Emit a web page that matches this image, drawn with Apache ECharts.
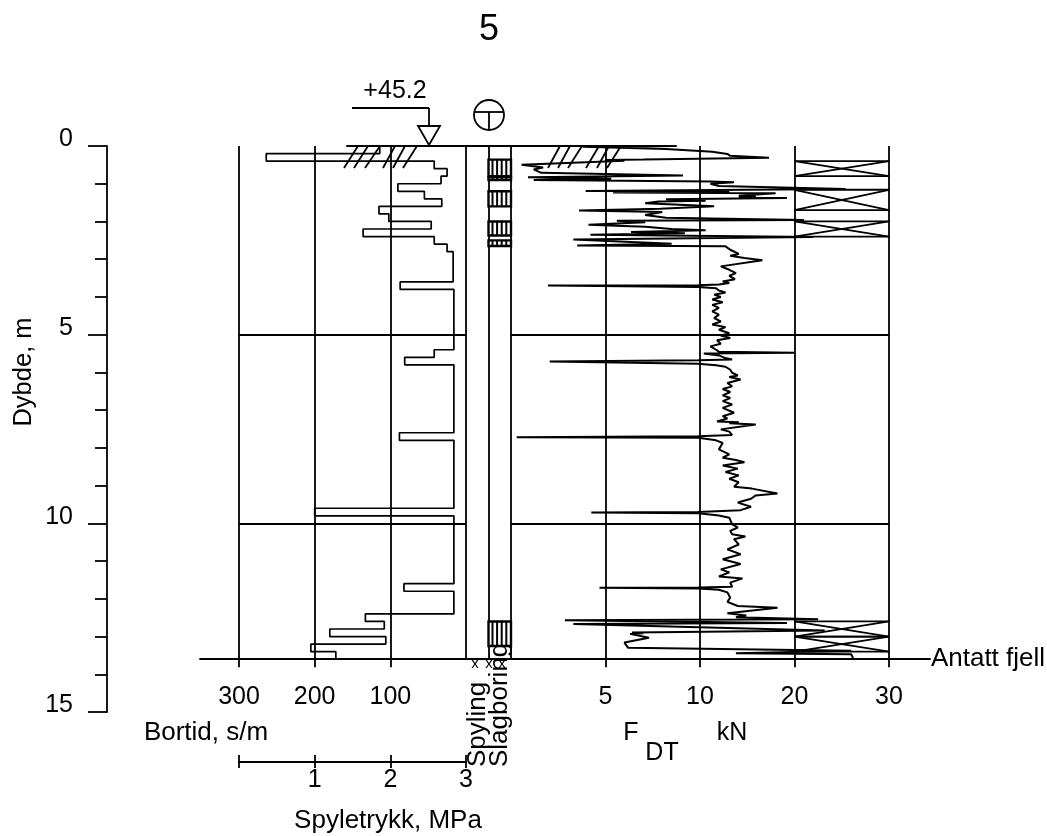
<!DOCTYPE html>
<html><head><meta charset="utf-8">
<style>html,body{margin:0;padding:0;background:#fff}#c{width:1047px;height:836px}</style>
<script src="https://cdn.jsdelivr.net/npm/echarts@6/dist/echarts.min.js"></script>
</head><body><div id="c"></div>
<script>
const depthTicks=[0,5,10,15];
const bedrockDepth=13.6;
const bortidTicks=[100,200,300];
const forceTicks=[5,10,20,30];
const pressureTicks=[1,2,3];
// Bortid, s/m: step values between successive depth edges
const bortidEdges=[0,0.2,0.4,0.6,0.8,1.0,1.2,1.4,1.6,1.8,2.0,2.2,2.4,2.6,2.8,3.6,3.8,5.4,5.6,5.8,7.6,7.8,9.6,9.8,11.6,11.8,12.4,12.6,12.8,13.0,13.2,13.4,13.6];
const bortidValues=[114,264,42,25,33,90,55,32,115,102,46,136,42,25,17,87,16,42,81,16,88,16,200,16,82,16,133,108,180,106,205,172];
// F_DT, kN against depth, m
const forceDepth=[0,0.02,0.08,0.15,0.21,0.26,0.31,0.36,0.37,0.39,0.50,0.57,0.62,0.71,0.78,0.83,0.87,0.90,0.94,0.96,1.0,1.06,1.14,1.19,1.20,1.23,1.25,1.32,1.34,1.37,1.38,1.41,1.45,1.47,1.52,1.60,1.66,1.71,1.75,1.83,1.90,1.96,1.98,2.02,2.09,2.14,2.20,2.23,2.28,2.31,2.35,2.41,2.48,2.59,2.64,2.66,
2.75,2.86,2.91,2.97,3.03,3.19,3.28,3.37,3.44,3.53,3.59,3.63,3.67,3.69,3.70,3.74,3.77,3.83,3.88,3.94,4.00,4.07,4.14,4.21,4.29,4.38,4.47,4.56,4.65,4.73,4.80,4.87,4.96,5.02,5.09,5.15,5.24,5.31,5.40,5.45,5.48,5.50,5.55,5.62,5.66,5.68,5.71,5.77,5.81,5.85,5.93,6.01,6.08,6.12,6.19,6.28,6.37,6.44,6.52,6.61,6.68,6.76,6.85,6.94,7.07,7.16,7.22,7.30,7.32,7.35,7.38,7.51,7.57,7.66,7.69,7.72,7.73,7.80,7.87,8.04,8.17,8.26,8.32,8.38,
8.47,8.55,8.64,8.73,8.82,8.91,9.03,9.08,9.21,9.26,9.35,9.45,9.56,9.65,9.69,9.70,9.71,9.73,9.79,9.85,10.03,10.11,10.20,10.29,10.35,10.42,10.56,10.69,10.82,10.95,11.08,11.22,11.30,11.41,11.46,11.57,11.68,11.70,11.71,11.73,11.76,11.83,11.97,12.08,12.19,12.24,12.38,12.44,12.49,12.54,12.57,12.64,12.67,12.84,12.89,12.91,12.93,13.03,13.16,13.30,13.38,13.44,13.47,13.57];
const forceValues=[8.7,3.8,8.2,11.3,12.9,13.2,17.3,7,5,6,0.56,1.7,1.2,1.6,9.1,0.9,5.3,1.2,11.1,13.6,11.1,12,25.4,3.95,13.1,5.4,18,14.1,15.9,14.1,19.2,8.2,10.6,7.8,7.1,11.5,7.9,3.6,8,7.1,8.2,21,5.6,7.1,4.1,7.1,8.5,10.6,6.35,9.2,4.2,22,3.3,8.5,3.5,12.7,
13.2,14.1,13.2,14.7,16.6,12.2,13.1,13.8,13.1,13.7,12.4,13.1,12,9.9,1.95,9.9,11.7,12,12.7,11.5,12.2,11.3,12.4,11.3,12,11.3,12,11.5,12.2,11.3,12.7,12,13.1,12.2,13.2,11.8,12.2,11.1,11.7,12,20,10.4,12,12.7,13.4,9.9,2.05,9.9,11.7,12.7,13.2,13.4,14,13.1,14.3,12.9,13.4,12.4,13.2,12.4,13.2,12.4,13.4,12.4,13.6,12.4,12.9,11.8,14.1,13.1,15.9,12.2,13.1,13.4,9.9,0.3,9.9,11.7,12.4,12,13.1,12.4,13.8,14.7,
12.4,14,12.7,14.1,13.1,14.1,13.6,15.5,18.2,15.9,15.4,14,15.4,14.3,14.3,9.9,4.25,9.9,12,13.1,13.4,14,13.2,13.4,14.8,13.6,14.1,12.9,14.3,12.4,14.3,12.2,13.1,12,14.5,13.2,13.4,9.9,4.68,9.9,12,12.9,13.2,12.9,14,18.2,12.9,14.9,13.8,22.5,2.85,19.2,3.3,23.2,6.4,7,6.3,7.3,6,6.2,26,13.8,26,26.2];
// Depth intervals with hammer drilling hatching and flushing crosses
const slagStart=[0.36,0.82,1.2,2.0,2.5,12.6];
const slagEnd=[0.8,0.9,1.6,2.37,2.65,13.25];
const crossStart=[0.4,1.16,2.0,12.6,13.0];
const crossEnd=[0.8,1.7,2.4,13.0,13.4];

// The force axis is broken at 10 kN: 0-10 and 10-30 take equal widths.
const forceToAxis=f=>f<=10?f:10+(f-10)/2;
const axisToForce=a=>a<=10?a:10+(a-10)*2;

const INK='#000';
const LW=1.8;
const FONT='"Liberation Sans",Arial,sans-serif';
const TOP=146, PX15=566;
const barH=PX15*bedrockDepth/15;
const hide={show:false};
const txt=(t,x,y,fs,extra)=>({type:'text',x:x,y:y,style:Object.assign({text:t,fontFamily:FONT,fontSize:fs,fill:INK,textAlign:'center',textVerticalAlign:'middle'},extra||{})});
const seg=(a,b,c,d,w)=>({type:'line',shape:{x1:a,y1:b,x2:c,y2:d},style:{stroke:INK,lineWidth:w||LW}});

const grids=[
 {left:107,top:TOP,width:782,height:PX15},      //0 depth scale
 {left:239,top:TOP,width:227,height:barH},      //1 Bortid
 {left:511,top:TOP,width:378,height:barH},      //2 Force
 {left:466,top:TOP,width:45,height:barH},       //3 Columns
 {left:200,top:TOP,width:730,height:barH},      //4 Bedrock line
 {left:347,top:TOP,width:329,height:barH},      //5 Ground line
 {left:239,top:761,width:227,height:1}          //6 Pressure scale
];
const noneX=i=>({gridIndex:i,type:'value',min:0,max:1,show:false});
const noneY=i=>({gridIndex:i,type:'value',min:0,max:bedrockDepth,inverse:true,show:false});
const labelStyle={color:INK,fontFamily:FONT,fontSize:25};
const ln={color:INK,width:LW};

const xAxes=[
 noneX(0),
 {gridIndex:1,type:'value',inverse:true,min:0,max:300,interval:100,position:'bottom',
  axisLine:{show:true,onZero:false,lineStyle:ln},
  axisTick:{show:true,length:8,customValues:bortidTicks,lineStyle:ln},
  axisLabel:Object.assign({show:true,margin:25,customValues:bortidTicks},labelStyle),
  splitLine:{show:true,showMinLine:true,showMaxLine:true,lineStyle:ln}},
 {gridIndex:2,type:'value',min:0,max:20,interval:5,position:'bottom',
  axisLine:{show:true,onZero:false,lineStyle:ln},
  axisTick:{show:true,length:8,customValues:forceTicks.map(forceToAxis),lineStyle:ln},
  axisLabel:Object.assign({show:true,margin:25,customValues:forceTicks.map(forceToAxis),formatter:v=>String(axisToForce(v))},labelStyle),
  splitLine:{show:true,showMinLine:true,showMaxLine:true,lineStyle:ln}},
 {gridIndex:3,type:'value',min:0,max:2,interval:1,position:'bottom',
  axisLine:{show:true,onZero:false,lineStyle:ln},axisTick:hide,axisLabel:hide,
  splitLine:{show:true,showMinLine:true,showMaxLine:true,lineStyle:ln}},
 {gridIndex:4,type:'value',min:0,max:1,position:'bottom',
  axisLine:{show:true,onZero:false,lineStyle:ln},axisTick:hide,axisLabel:hide,splitLine:hide},
 {gridIndex:5,type:'value',min:0,max:1,position:'top',
  axisLine:{show:true,onZero:false,lineStyle:{color:INK,width:2}},axisTick:hide,axisLabel:hide,splitLine:hide},
 {gridIndex:6,type:'value',min:0,max:3,interval:1,position:'bottom',
  axisLine:{show:true,onZero:false,lineStyle:ln},
  axisTick:{show:true,length:6,lineStyle:ln},
  axisLabel:Object.assign({show:true,margin:6,customValues:pressureTicks},labelStyle),splitLine:hide},
 {gridIndex:6,type:'value',min:0,max:3,interval:1,position:'top',
  axisLine:hide,axisTick:{show:true,length:7,lineStyle:ln},axisLabel:hide,splitLine:hide}
];
const hLines={show:true,showMinLine:false,showMaxLine:false,lineStyle:ln};
const yAxes=[
 {gridIndex:0,type:'value',min:0,max:15,interval:5,inverse:true,position:'left',
  axisLine:{show:true,onZero:false,lineStyle:ln},
  axisTick:{show:true,length:19,lineStyle:ln},
  minorTick:{show:true,splitNumber:5,length:12,lineStyle:ln},
  axisLabel:Object.assign({show:true,margin:34,verticalAlign:'bottom',lineHeight:13,customValues:depthTicks},labelStyle),
  splitLine:hide},
 {gridIndex:1,type:'value',min:0,max:bedrockDepth,interval:5,inverse:true,axisLine:hide,axisTick:hide,axisLabel:hide,splitLine:hLines},
 {gridIndex:2,type:'value',min:0,max:bedrockDepth,interval:5,inverse:true,axisLine:hide,axisTick:hide,axisLabel:hide,splitLine:hLines},
 noneY(3),noneY(4),noneY(5),
 {gridIndex:6,type:'value',min:0,max:1,show:false}
];

const bortidLine=[];
bortidValues.forEach((v,i)=>{bortidLine.push([v,bortidEdges[i]],[v,bortidEdges[i+1]]);});
const forceLine=forceDepth.map((d,i)=>[forceToAxis(forceValues[i]),d]);

const series=[
 {type:'line',xAxisIndex:1,yAxisIndex:1,data:bortidLine,showSymbol:false,clip:false,animation:false,lineStyle:{color:INK,width:1.7}},
 {type:'line',xAxisIndex:2,yAxisIndex:2,data:forceLine,showSymbol:false,clip:false,animation:false,lineStyle:{color:INK,width:2}},
 {type:'custom',xAxisIndex:3,yAxisIndex:3,clip:false,animation:false,silent:true,
  encode:{x:[],y:[0,1]},data:slagStart.map((s,i)=>[s,slagEnd[i]]),
  renderItem:(p,api)=>{
    const a=api.coord([1,api.value(0)]),b=api.coord([2,api.value(1)]);
    const kids=[{type:'rect',shape:{x:a[0],y:a[1],width:b[0]-a[0],height:b[1]-a[1]},style:{fill:'#fff',stroke:INK,lineWidth:2.4}}];
    for(let x=a[0]+4;x<b[0]-1;x+=4.6){
      kids.push({type:'line',shape:{x1:x,y1:a[1],x2:x,y2:b[1]},style:{stroke:INK,lineWidth:2}});
    }
    return {type:'group',children:kids};
  }},
 {type:'custom',xAxisIndex:2,yAxisIndex:2,clip:false,animation:false,silent:true,
  encode:{x:[],y:[0,1]},data:crossStart.map((s,i)=>[s,crossEnd[i]]),
  renderItem:(p,api)=>{
    const a=api.coord([forceToAxis(20),api.value(0)]),b=api.coord([forceToAxis(30),api.value(1)]);
    const st={stroke:INK,lineWidth:LW,fill:null};
    return {type:'group',children:[
      {type:'line',shape:{x1:a[0],y1:a[1],x2:b[0],y2:a[1]},style:st},
      {type:'line',shape:{x1:a[0],y1:b[1],x2:b[0],y2:b[1]},style:st},
      {type:'line',shape:{x1:a[0],y1:a[1],x2:b[0],y2:b[1]},style:st},
      {type:'line',shape:{x1:a[0],y1:b[1],x2:b[0],y2:a[1]},style:st}
    ]};
  }}
];

const hatchL=[[358,344],[368,354],[380,365],[395,383],[405,393],[417,403]];
const hatchR=[[560,548],[570,558],[582,568],[599,586],[609,597],[621,607]];
const graphic=[
 txt('5',489,30,36),
 txt('+45.2',395,91,25),
 txt('Bortid, s/m',206,733,26),
 txt('F',631,733,25),
 txt('DT',662,753,25),
 txt('kN',732,733,25),
 txt('Spyletrykk, MPa',388,821,26),
 txt('Antatt fjell',988,659,26),
 {type:'text',x:24,y:372,rotation:Math.PI/2,style:{text:'Dybde, m',fontFamily:FONT,fontSize:25.5,fill:INK,textAlign:'center',textVerticalAlign:'middle'}},
 {type:'text',x:478,y:767,rotation:Math.PI/2,style:{text:'Spyling',fontFamily:FONT,fontSize:26,fill:INK,textAlign:'left',textVerticalAlign:'middle'}},
 {type:'text',x:500,y:767,rotation:Math.PI/2,style:{text:'Slagboring',fontFamily:FONT,fontSize:26,fill:INK,textAlign:'left',textVerticalAlign:'middle'}},
 txt('x',475,664,15),txt('x',489,664,15),txt('x',502,664,15),
 seg(352,108,429,108),seg(429,108,429,126),
 {type:'polygon',shape:{points:[[418,126],[440,126],[429,145]]},style:{fill:'#fff',stroke:INK,lineWidth:LW}},
 {type:'circle',shape:{cx:489,cy:115,r:15},style:{fill:'#fff',stroke:INK,lineWidth:LW}},
 seg(475,112,503,112),seg(489,112,489,130),
 ...hatchL.map(h=>seg(h[0],146,h[1],168)),
 ...hatchR.map(h=>seg(h[0],146,h[1],168))
];

const chart=echarts.init(document.getElementById('c'),null,{renderer:'canvas'});
chart.setOption({backgroundColor:'#fff',animation:false,grid:grids,xAxis:xAxes,yAxis:yAxes,series,graphic:{elements:graphic},tooltip:{show:false},legend:{show:false}});
</script></body></html>
